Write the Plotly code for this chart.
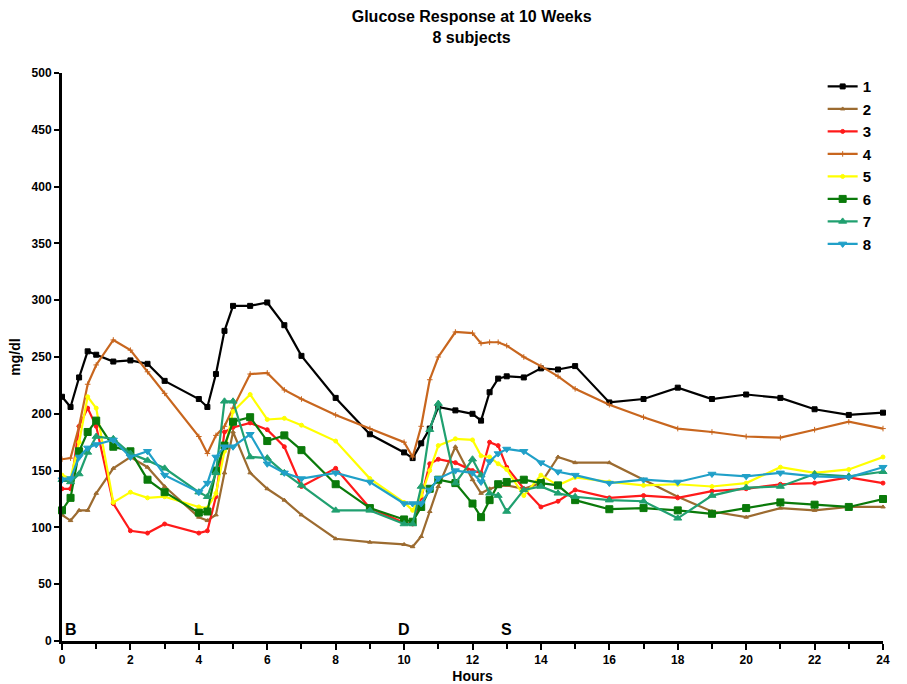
import plotly.graph_objects as go

hours = [0, 0.25, 0.5, 0.75, 1, 1.5, 2, 2.5, 3, 4, 4.25, 4.5, 4.75, 5, 5.5, 6, 6.5, 7, 8, 9,
         10, 10.25, 10.5, 10.75, 11, 11.5, 12, 12.25, 12.5, 12.75, 13, 13.5, 14, 14.5, 15,
         16, 17, 18, 19, 20, 21, 22, 23, 24]

s1 = [215, 206, 232, 255, 252, 246, 247, 244, 229, 213, 206, 235, 273, 295, 295, 298, 278, 251, 214, 182,
      166, 161, 174, 187, 206, 203, 200, 194, 219, 231, 233, 232, 240, 239, 242,
      210, 213, 223, 213, 217, 214, 204, 199, 201]
s2 = [111, 106, 115, 115, 130, 152, 162, 153, 136, 109, 106, 111, 148, 184, 148, 134, 124, 111, 90, 87,
      85, 83, 92, 114, 136, 171, 142, 130, 134, 136, 137, 134, 139, 162, 157,
      157, 142, 127, 114, 109, 117, 115, 118, 118]
s3 = [134, 134, 189, 205, 189, 121, 97, 95, 103, 95, 97, 127, 184, 188, 192, 186, 171, 136, 152, 117,
      104, 103, 126, 156, 160, 157, 150, 148, 175, 172, 153, 134, 118, 123, 133,
      126, 128, 126, 132, 134, 138, 139, 144, 139]
s4 = [160, 161, 189, 226, 243, 265, 256, 237, 218, 180, 165, 181, 189, 205, 235, 236, 221, 213, 199, 187,
      175, 162, 189, 230, 250, 272, 271, 262, 263, 263, 260, 250, 242, 233, 222,
      208, 197, 187, 184, 180, 179, 186, 193, 187]
s5 = [146, 143, 175, 215, 205, 122, 131, 126, 127, 118, 117, 130, 167, 202, 217, 195, 196, 190, 176, 143,
      122, 115, 128, 150, 172, 178, 177, 163, 162, 156, 151, 128, 146, 137, 144,
      140, 137, 138, 136, 139, 153, 148, 151, 162]
s6 = [115, 126, 167, 184, 194, 171, 167, 142, 131, 113, 114, 150, 172, 193, 197, 176, 181, 168, 138, 117,
      107, 105, 118, 134, 142, 139, 121, 109, 124, 138, 140, 142, 139, 137, 124,
      116, 117, 115, 112, 117, 122, 120, 118, 125]
s7 = [142, 140, 147, 166, 180, 178, 165, 159, 152, 131, 127, 148, 211, 211, 162, 161, 148, 137, 115, 115,
      103, 103, 136, 186, 209, 139, 160, 146, 130, 128, 114, 133, 136, 130, 127,
      124, 123, 108, 128, 135, 136, 147, 145, 149]
s8 = [142, 143, 162, 170, 173, 177, 162, 167, 146, 131, 139, 162, 171, 171, 182, 156, 148, 143, 148, 140,
      121, 121, 121, 133, 143, 150, 148, 140, 158, 165, 169, 167, 157, 149, 146,
      139, 142, 140, 147, 145, 148, 145, 144, 153]

names = ["1", "2", "3", "4", "5", "6", "7", "8"]
series = [s1, s2, s3, s4, s5, s6, s7, s8]
colors = ["#000000", "#9C6B30", "#FF1A1A", "#C8661E", "#FFFF00", "#0A7A0A", "#20A070", "#20A0C8"]
symbols = ["square", "triangle-up", "circle", "cross-thin", "circle", "square", "triangle-up", "triangle-down"]
msizes = [5, 4, 4, 4, 4, 7, 7, 7]

meal_labels = ["B", "L", "D", "S"]
meal_hours = [0.25, 4, 10, 13]

font = "Liberation Sans, Arial, sans-serif"

fig = go.Figure()
for n, s, c, sym, ms in zip(names, series, colors, symbols, msizes):
    fig.add_trace(go.Scatter(
        x=hours, y=s, name="<b>" + n + "</b>", mode="lines+markers",
        line=dict(color=c, width=2.2),
        marker=dict(symbol=sym, size=ms, color=c, line=dict(color=c, width=1)),
        cliponaxis=False,
    ))

for lab, h in zip(meal_labels, meal_hours):
    fig.add_annotation(x=h, y=0, text="<b>" + lab + "</b>", showarrow=False,
                       yanchor="bottom", xanchor="center", yshift=1,
                       font=dict(size=16, color="black", family=font))

fig.update_layout(
    width=907, height=684,
    margin=dict(l=62, r=24, t=73, b=43, autoexpand=False),
    paper_bgcolor="white", plot_bgcolor="white",
    font=dict(family=font, color="black"),
    title=dict(text="<b>Glucose Response at 10 Weeks<br>8 subjects</b>",
               x=0.52, xanchor="center", y=0.968, yanchor="top",
               font=dict(size=16, family=font, color="black")),
    legend=dict(x=0.9265, y=1.005, xanchor="left", yanchor="top",
                font=dict(size=15, family=font, color="black"),
                bgcolor="rgba(0,0,0,0)", itemwidth=30, tracegroupgap=4),
    showlegend=True,
)
fig.update_xaxes(range=[0, 24], tick0=0, dtick=2, showgrid=False, zeroline=False, automargin=False,
                 showline=True, linecolor="black", linewidth=3,
                 ticks="outside", ticklen=6, tickwidth=2, tickcolor="black",
                 minor=dict(ticks="outside", dtick=1, ticklen=5, tickwidth=2, tickcolor="black"),
                 tickfont=dict(size=12, family=font, color="black", weight="bold"),
                 title=dict(text="<b>Hours</b>", font=dict(size=14, family=font), standoff=6))
fig.update_yaxes(range=[0, 500], tick0=0, dtick=50, showgrid=False, zeroline=False, automargin=False,
                 showline=True, linecolor="black", linewidth=3,
                 ticks="outside", ticklen=5, tickwidth=2, tickcolor="black",
                 tickfont=dict(size=12, family=font, color="black", weight="bold"),
                 title=dict(text="<b>mg/dl</b>", font=dict(size=14, family=font), standoff=8))

fig.write_html("out.html", config={"displayModeBar": False},
               post_script="document.body.style.margin='0';")
